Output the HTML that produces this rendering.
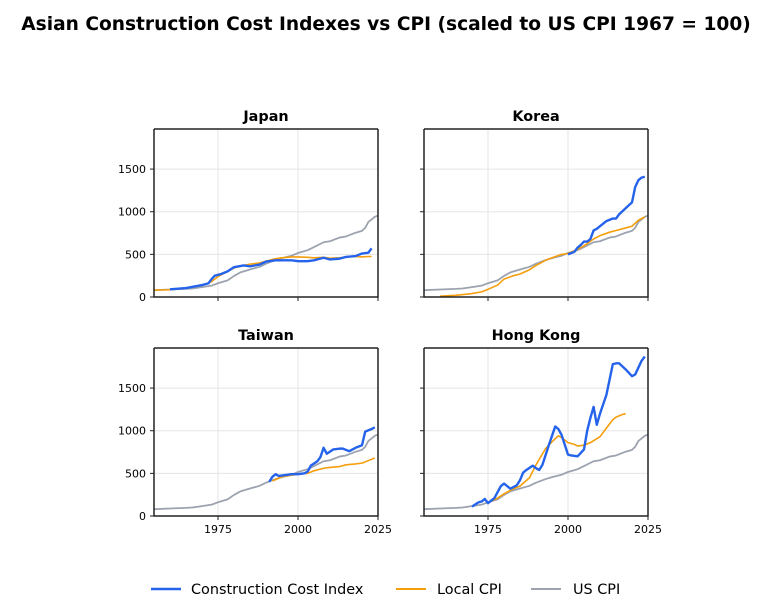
<!DOCTYPE html>
<html><head><meta charset="utf-8"><style>
body{margin:0;background:#fff;}
svg{display:block;font-family:"DejaVu Sans","Liberation Sans",sans-serif;}
</style></head><body>
<svg id="chart" width="771" height="610" viewBox="0 0 771 610">
<text x="386" y="30" text-anchor="middle" font-size="18.6" font-weight="bold">Asian Construction Cost Indexes vs CPI  (scaled to US CPI 1967 = 100)</text>
<g>
<line x1="151" y1="589" x2="181" y2="589" stroke="#2563eb" stroke-width="2.5"/>
<text x="191" y="594" font-size="14.4">Construction Cost Index</text>
<line x1="396" y1="589" x2="426" y2="589" stroke="#f59e0b" stroke-width="2"/>
<text x="437" y="594" font-size="14.4">Local CPI</text>
<line x1="531" y1="589" x2="561" y2="589" stroke="#9ca3af" stroke-width="2"/>
<text x="573" y="594" font-size="14.4">US CPI</text>
</g>
</svg>
<script>
const usYears=[1955,1960,1965,1967,1970,1973,1975,1978,1980,1982,1985,1988,1990,1993,1995,1998,2000,2003,2005,2008,2010,2013,2015,2018,2020,2021,2022,2023,2024,2025];
const usCpi=[80,88,95,100,116,133,161,195,247,289,322,354,391,433,456,484,516,549,585,642,654,697,710,754,775,812,880,910,940,955];
const jpCciYears=[1960,1965,1970,1972,1973,1974,1976,1978,1980,1983,1985,1988,1990,1993,1995,1998,2000,2003,2005,2008,2010,2013,2015,2018,2020,2022,2023];
const jpCci=[90,105,140,160,210,250,270,300,350,370,360,380,415,430,430,430,420,420,430,460,440,450,470,480,510,520,570];
const jpCpiYears=[1955,1960,1965,1970,1973,1975,1978,1980,1983,1985,1988,1990,1993,1995,1998,2000,2003,2005,2008,2010,2013,2015,2018,2020,2022,2023];
const jpCpi=[80,85,105,135,180,240,300,340,370,385,400,420,450,460,470,470,465,460,465,455,460,470,475,470,475,475];
const krCciYears=[2000,2002,2003,2004,2005,2006,2007,2008,2009,2010,2012,2014,2015,2016,2018,2020,2021,2022,2023,2024];
const krCci=[500,530,580,610,650,650,680,780,800,830,890,920,920,970,1040,1110,1290,1370,1400,1410];
const krCpiYears=[1960,1965,1970,1973,1975,1978,1980,1983,1985,1988,1990,1993,1995,1998,2000,2003,2005,2008,2010,2013,2015,2018,2020,2022,2024];
const krCpi=[10,20,40,60,90,140,210,250,270,320,370,430,460,500,510,560,600,680,720,760,780,810,830,900,940];
const twCciYears=[1991,1992,1993,1994,1996,1998,2000,2002,2003,2004,2006,2007,2008,2009,2011,2013,2014,2016,2018,2020,2021,2023,2024];
const twCci=[400,460,490,470,480,490,490,500,520,590,640,690,800,730,780,790,790,760,800,830,990,1020,1040];
const twCpiYears=[1992,1995,2000,2003,2005,2008,2010,2013,2015,2018,2020,2022,2024];
const twCpi=[410,460,490,500,530,560,570,580,600,610,620,650,680];
const hkCciYears=[1970,1972,1973,1974,1975,1977,1979,1980,1982,1984,1985,1986,1987,1989,1990,1991,1992,1994,1996,1997,1998,2000,2001,2003,2004,2005,2006,2007,2008,2009,2010,2012,2014,2015,2016,2018,2020,2021,2023,2024];
const hkCci=[110,160,170,200,150,210,350,380,320,360,420,510,540,590,560,540,600,830,1050,1020,950,720,710,700,740,780,1000,1150,1280,1070,1200,1420,1780,1790,1790,1720,1640,1660,1820,1870];
const hkCpiYears=[1975,1978,1980,1983,1985,1988,1990,1993,1995,1997,1998,2000,2002,2003,2005,2007,2010,2012,2014,2015,2017,2018];
const hkCpi=[160,210,260,320,350,450,600,790,870,940,920,860,840,820,830,860,930,1030,1130,1160,1190,1200];
const xTicks=[1975,2000,2025];
const yTicks=[0,500,1000,1500];

const NS="http://www.w3.org/2000/svg";
const svg=document.getElementById('chart');
function mk(t,a,p){const e=document.createElementNS(NS,t);for(const k in a)e.setAttribute(k,a[k]);(p||svg).appendChild(e);return e;}
const panels=[
 {name:'japan',title:'Japan',x:154,y:129,cy:jpCciYears,cv:jpCci,ly:jpCpiYears,lv:jpCpi,left:true,bottom:false},
 {name:'korea',title:'Korea',x:424,y:129,cy:krCciYears,cv:krCci,ly:krCpiYears,lv:krCpi,left:false,bottom:false},
 {name:'taiwan',title:'Taiwan',x:154,y:348,cy:twCciYears,cv:twCci,ly:twCpiYears,lv:twCpi,left:true,bottom:true},
 {name:'hong-kong',title:'Hong Kong',x:424,y:348,cy:hkCciYears,cv:hkCci,ly:hkCpiYears,lv:hkCpi,left:false,bottom:true}];
const W=224,H=168,X0=1955,X1=2025,Y0=0,Y1=1970;
panels.forEach(p=>{
 const g=mk('g',{});
 
 
 const sx=v=>p.x+(v-X0)/(X1-X0)*W, sy=v=>p.y+H-(v-Y0)/(Y1-Y0)*H;
 xTicks.forEach(t=>{mk('line',{x1:sx(t),x2:sx(t),y1:p.y,y2:p.y+H,stroke:'#e5e5e5','stroke-width':1},g);
  mk('line',{x1:sx(t),x2:sx(t),y1:p.y+H,y2:p.y+H+4,stroke:'#222'},g);
  if(p.bottom){const tx=mk('text',{x:sx(t),y:p.y+H+17,'text-anchor':'middle','font-size':11},g);tx.textContent=t;
   }});
 yTicks.forEach(t=>{if(t>0)mk('line',{x1:p.x,x2:p.x+W,y1:sy(t),y2:sy(t),stroke:'#e5e5e5'},g);
  mk('line',{x1:p.x-4,x2:p.x,y1:sy(t),y2:sy(t),stroke:'#222'},g);
  if(p.left){const tx=mk('text',{x:p.x-8,y:sy(t)+4,'text-anchor':'end','font-size':11},g);tx.textContent=t;
   }});
 const line=(ys,vs,c,w,n)=>{const pl=mk('polyline',{points:ys.map((y,i)=>sx(y)+','+sy(vs[i])).join(' '),fill:'none',stroke:c,'stroke-width':w,'stroke-linejoin':'round'},g);
  };
 line(usYears,usCpi,'#9ca3af',1.8,'us-cpi-line');
 line(p.ly,p.lv,'#f59e0b',1.6,'local-cpi-line');
 line(p.cy,p.cv,'#2563eb',2.4,'cci-line');
 mk('path',{d:`M${p.x},${p.y}V${p.y+H}H${p.x+W}V${p.y}`,fill:'none',stroke:'#222','stroke-width':1.5},g);
 mk('path',{d:`M${p.x},${p.y}H${p.x+W}`,fill:'none',stroke:'#222','stroke-width':1.5},g);
 const tt=mk('text',{x:p.x+W/2,y:p.y-8,'text-anchor':'middle','font-size':14.4,'font-weight':'bold'},g);tt.textContent=p.title;
 
});
</script>
</body></html>
